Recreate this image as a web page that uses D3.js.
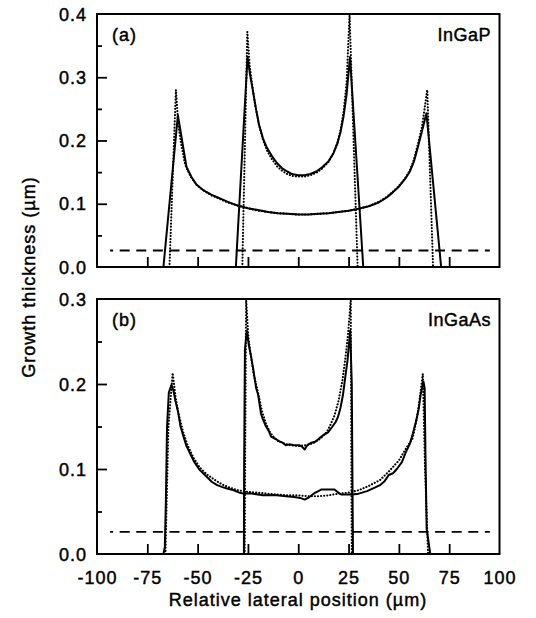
<!DOCTYPE html>
<html>
<head>
<meta charset="utf-8">
<script src="https://cdn.jsdelivr.net/npm/d3@7/dist/d3.min.js"></script>
<style>
  html, body { margin: 0; padding: 0; background: #fff; }
  svg { display: block; }
  text { font-family: "Liberation Sans", Arial, Helvetica, sans-serif; fill: #000;
         stroke: #000; stroke-width: 0.45px; }
</style>
</head>
<body>
<svg id="chart" width="536" height="618"></svg>
<script>
// ---- data: [lateral position (µm), growth thickness (µm)] ----
// (a) InGaP, measured (solid) and simulated (dotted)
const ingapMeasuredOuter = [
  [-67.0, 0], [-59.8, 0.240], [-58.5, 0.215], [-57.2, 0.190], [-55.5, 0.158], [-53, 0.142],
  [-50.5, 0.130], [-47, 0.121], [-43, 0.114], [-40, 0.110], [-35, 0.103], [-30, 0.097],
  [-25, 0.093], [-20, 0.090], [-15, 0.087], [-10, 0.085], [-5, 0.084], [0, 0.083],
  [5, 0.083], [10, 0.084], [15, 0.085], [20, 0.087], [25, 0.089], [30, 0.092], [35, 0.096],
  [40, 0.102], [44, 0.110], [47, 0.118], [50, 0.127], [53, 0.139], [55.5, 0.151],
  [57.5, 0.167], [59.5, 0.190], [61.5, 0.215], [63.7, 0.243], [71.0, 0]
];
const ingapSimulatedOuter = [
  [-64.0, 0], [-60.8, 0.280], [-59.6, 0.225], [-58.2, 0.195], [-56.2, 0.162], [-53.5, 0.143],
  [-50.5, 0.130], [-47, 0.121], [-43, 0.113], [-40, 0.109], [-35, 0.102], [-30, 0.097],
  [-25, 0.093], [-20, 0.089], [-15, 0.087], [-10, 0.085], [-5, 0.084], [0, 0.083],
  [5, 0.083], [10, 0.084], [15, 0.085], [20, 0.087], [25, 0.089], [30, 0.092], [35, 0.096],
  [40, 0.103], [44, 0.111], [47, 0.119], [50, 0.128], [53, 0.140], [55.5, 0.153],
  [57.5, 0.170], [59.5, 0.195], [61.5, 0.222], [64.1, 0.280], [67.0, 0]
];
const ingapMeasuredInner = [
  [-31.0, 0], [-25.2, 0.332], [-24, 0.305], [-22.5, 0.278], [-21, 0.250], [-19.5, 0.225],
  [-17.5, 0.203], [-15.5, 0.188], [-13, 0.175], [-10.5, 0.164], [-8, 0.156], [-5.5, 0.151],
  [-3, 0.147], [0, 0.145], [3, 0.145], [6, 0.147], [9, 0.151], [12, 0.158], [15, 0.167],
  [17.5, 0.180], [19.5, 0.196], [21, 0.213], [22.5, 0.238], [24, 0.272], [25.7, 0.332],
  [32.3, 0]
];
const ingapSimulatedInner = [
  [-27.8, 0], [-25.3, 0.372], [-24.2, 0.320], [-23, 0.290], [-21.5, 0.258], [-19.5, 0.225],
  [-17.5, 0.201], [-15.5, 0.184], [-13, 0.170], [-10.5, 0.159], [-8, 0.152], [-5.5, 0.147],
  [-3, 0.144], [0, 0.143], [3, 0.143], [6, 0.145], [9, 0.149], [12, 0.156], [15, 0.166],
  [17.5, 0.180], [19.5, 0.197], [21, 0.216], [22.5, 0.245], [24, 0.290], [25.5, 0.400],
  [29.5, 0]
];

// (b) InGaAs, measured (solid) and simulated (dotted)
const ingaasMeasuredOuter = [
  [-67, 0], [-66.3, 0.008], [-65.8, 0.060], [-65.2, 0.150], [-64.3, 0.190], [-63, 0.199],
  [-62, 0.192], [-61, 0.180], [-59.7, 0.167], [-58.5, 0.150], [-57, 0.138], [-55.7, 0.128],
  [-53.5, 0.117], [-51.6, 0.108], [-49, 0.099], [-46, 0.092], [-43, 0.085], [-40.3, 0.081],
  [-38, 0.079], [-35.4, 0.077], [-32, 0.075], [-29, 0.072], [-27.3, 0.071], [-24, 0.0715],
  [-20, 0.070], [-17.5, 0.069], [-12, 0.0695], [-6, 0.068], [-2, 0.067], [1, 0.066],
  [3.2, 0.064], [5.5, 0.067], [8, 0.0715], [10, 0.074], [11.6, 0.076], [18, 0.076],
  [20, 0.072], [21.3, 0.070], [26.9, 0.070], [30, 0.071], [34.2, 0.074], [38, 0.078],
  [40.6, 0.081], [43, 0.086], [45, 0.093], [47.1, 0.095], [49, 0.100], [51.5, 0.108],
  [53.5, 0.120], [55.5, 0.130], [57, 0.142], [58.4, 0.155], [59.8, 0.170], [60.8, 0.187],
  [62.2, 0.203], [62.8, 0.195], [63.2, 0.120], [63.8, 0.030], [65.6, 0]
];
const ingaasSimulatedOuter = [
  [-66, 0], [-64.5, 0.150], [-62.4, 0.213], [-61, 0.185], [-59.5, 0.165], [-57, 0.142],
  [-55, 0.128], [-52, 0.113], [-49, 0.102], [-45.6, 0.094], [-42, 0.088], [-38, 0.082],
  [-34, 0.078], [-30, 0.075], [-25, 0.073], [-20, 0.072], [-15, 0.071], [-10, 0.070],
  [-5, 0.069], [0, 0.069], [5, 0.068], [10, 0.068], [15, 0.069], [20, 0.071], [24.5, 0.072],
  [30, 0.075], [35, 0.080], [40.6, 0.087], [45, 0.097], [50, 0.110], [53, 0.122],
  [56.8, 0.136], [59, 0.160], [60.5, 0.185], [61.9, 0.212], [63, 0.100], [64.5, 0]
];
const ingaasMeasuredInner = [
  [-27, 0], [-26.9, 0.100], [-26.5, 0.240], [-25.6, 0.263], [-24.5, 0.245], [-23.4, 0.232],
  [-22.4, 0.218], [-20.9, 0.195], [-19.9, 0.187], [-18.5, 0.165], [-17.5, 0.158], [-16, 0.150],
  [-14.5, 0.144], [-13.5, 0.138], [-11, 0.135], [-9, 0.132], [-7.7, 0.131], [-6.2, 0.128],
  [-4.4, 0.129], [-2, 0.128], [0.5, 0.128], [2, 0.126], [3.2, 0.123], [4.5, 0.128],
  [6.5, 0.131], [8.4, 0.132], [10.4, 0.136], [12.5, 0.140], [14.8, 0.143], [17, 0.150],
  [18.5, 0.155], [19.7, 0.161], [21, 0.172], [22.2, 0.187], [23.2, 0.205], [24.5, 0.228],
  [25.8, 0.263], [26.6, 0.200], [26.9, 0.100], [27.2, 0]
];
const ingaasSimulatedInner = [
  [-26.6, 0], [-26.4, 0.100], [-26.1, 0.220], [-25.9, 0.300], [-24.8, 0.255], [-23.5, 0.232],
  [-22, 0.210], [-20, 0.190], [-18, 0.168], [-16, 0.153], [-14, 0.143], [-12, 0.137],
  [-10, 0.133], [-7, 0.130], [-4, 0.128], [0, 0.127], [4, 0.128], [7, 0.130], [10, 0.134],
  [12, 0.138], [14, 0.143], [16, 0.152], [18, 0.163], [20, 0.180], [22, 0.205], [23.5, 0.232],
  [24.8, 0.260], [26.1, 0.300], [26.4, 0.100], [26.6, 0]
];

// horizontal dashed reference level and its extent
const referenceLevel = 0.026;
const referenceSpan = [-93.5, 95.2];

// axes
const xDomain = [-100, 100];
const xTicks = [-100, -75, -50, -25, 0, 25, 50, 75, 100];
const xInnerTicks = [-75, -50, -25, 0, 25, 50, 75];
const panelA = { label: "(a)", material: "InGaP", yMax: 0.4,
  yTicks: [0, 0.1, 0.2, 0.3, 0.4], yMinor: [0.05, 0.15, 0.25, 0.35] };
const panelB = { label: "(b)", material: "InGaAs", yMax: 0.3,
  yTicks: [0, 0.1, 0.2, 0.3], yMinor: [0.05, 0.15, 0.25] };

// ---- drawing ----
const svg = d3.select("#chart");
const left = 97, right = 499.5;
const x = d3.scaleLinear().domain(xDomain).range([left, right]);
const fmt = d3.format(".1f");

function drawPanel(cfg, top, bottom, id, series, showXLabels) {
  const y = d3.scaleLinear().domain([0, cfg.yMax]).range([bottom, top]);
  const g = svg.append("g");

  g.append("clipPath").attr("id", id)
    .append("rect").attr("x", left).attr("y", top)
    .attr("width", right - left).attr("height", bottom - top);

  const plot = g.append("g").attr("clip-path", `url(#${id})`);
  const line = d3.line().x(d => x(d[0])).y(d => y(d[1]));

  // dashed reference level
  plot.append("path")
    .datum(referenceSpan.map(v => [v, referenceLevel]))
    .attr("d", line)
    .attr("fill", "none").attr("stroke", "#000").attr("stroke-width", 1.9)
    .attr("stroke-dasharray", "10,6.6").attr("stroke-dashoffset", 7);

  // simulated profiles (dotted)
  series.simulated.forEach(s => {
    plot.append("path").datum(s).attr("d", line)
      .attr("fill", "none").attr("stroke", "#000").attr("stroke-width", 2.1)
      .attr("stroke-linecap", "round").attr("stroke-dasharray", "0.1,3");
  });
  // measured profiles (solid)
  series.measured.forEach(s => {
    plot.append("path").datum(s).attr("d", line)
      .attr("fill", "none").attr("stroke", "#000").attr("stroke-width", 2)
      .attr("stroke-linejoin", "round");
  });

  // x axis: inward ticks
  const xa = g.append("g").attr("transform", `translate(0,${bottom})`)
    .call(d3.axisBottom(x).tickValues(xInnerTicks).tickSize(-10).tickFormat(""));
  xa.select(".domain").remove();
  xa.selectAll(".tick line").attr("stroke", "#000").attr("stroke-width", 1.8);

  if (showXLabels) {
    g.append("g").selectAll("text").data(xTicks).join("text")
      .attr("x", d => x(d) + 0.5).attr("y", bottom + 30)
      .attr("text-anchor", "middle")
      .style("font-size", "18px").style("letter-spacing", "1px")
      .text(d => d);
  }

  // y axis: major and minor inward ticks
  const ya = g.append("g").attr("transform", `translate(${left},0)`)
    .call(d3.axisLeft(y).tickValues(cfg.yTicks.filter(v => v > 0 && v < cfg.yMax))
      .tickSize(-10).tickFormat(""));
  ya.select(".domain").remove();
  ya.selectAll(".tick line").attr("stroke", "#000").attr("stroke-width", 1.8);
  const ym = g.append("g").attr("transform", `translate(${left},0)`)
    .call(d3.axisLeft(y).tickValues(cfg.yMinor).tickSize(-5).tickFormat(""));
  ym.select(".domain").remove();
  ym.selectAll(".tick line").attr("stroke", "#000").attr("stroke-width", 1.8);

  g.append("g").selectAll("text").data(cfg.yTicks).join("text")
    .attr("x", left - 10).attr("y", d => y(d) + 6.5)
    .attr("text-anchor", "end")
    .style("font-size", "18px").style("letter-spacing", "1px")
    .text(d => fmt(d));

  // frame
  g.append("rect").attr("x", left).attr("y", top)
    .attr("width", right - left).attr("height", bottom - top)
    .attr("fill", "none").attr("stroke", "#000").attr("stroke-width", 2);

  // panel annotations
  g.append("text").attr("x", 112).attr("y", top + 27)
    .style("font-size", "18px").style("letter-spacing", "1px").text(cfg.label);
  g.append("text").attr("x", 491).attr("y", top + 27)
    .attr("text-anchor", "end")
    .style("font-size", "18px").style("letter-spacing", "0.5px").text(cfg.material);
}

drawPanel(panelA, 14, 267, "clipA",
  { measured: [ingapMeasuredOuter, ingapMeasuredInner],
    simulated: [ingapSimulatedOuter, ingapSimulatedInner] }, false);
drawPanel(panelB, 299, 554, "clipB",
  { measured: [ingaasMeasuredOuter, ingaasMeasuredInner],
    simulated: [ingaasSimulatedOuter, ingaasSimulatedInner] }, true);

// axis titles
svg.append("text")
  .attr("transform", "translate(34.5,277) rotate(-90)")
  .attr("text-anchor", "middle")
  .style("font-size", "18px").style("letter-spacing", "1px")
  .text("Growth thickness (µm)");
svg.append("text")
  .attr("x", 298).attr("y", 606)
  .attr("text-anchor", "middle")
  .style("font-size", "18px").style("letter-spacing", "1px")
  .text("Relative lateral position (µm)");
</script>
</body>
</html>
